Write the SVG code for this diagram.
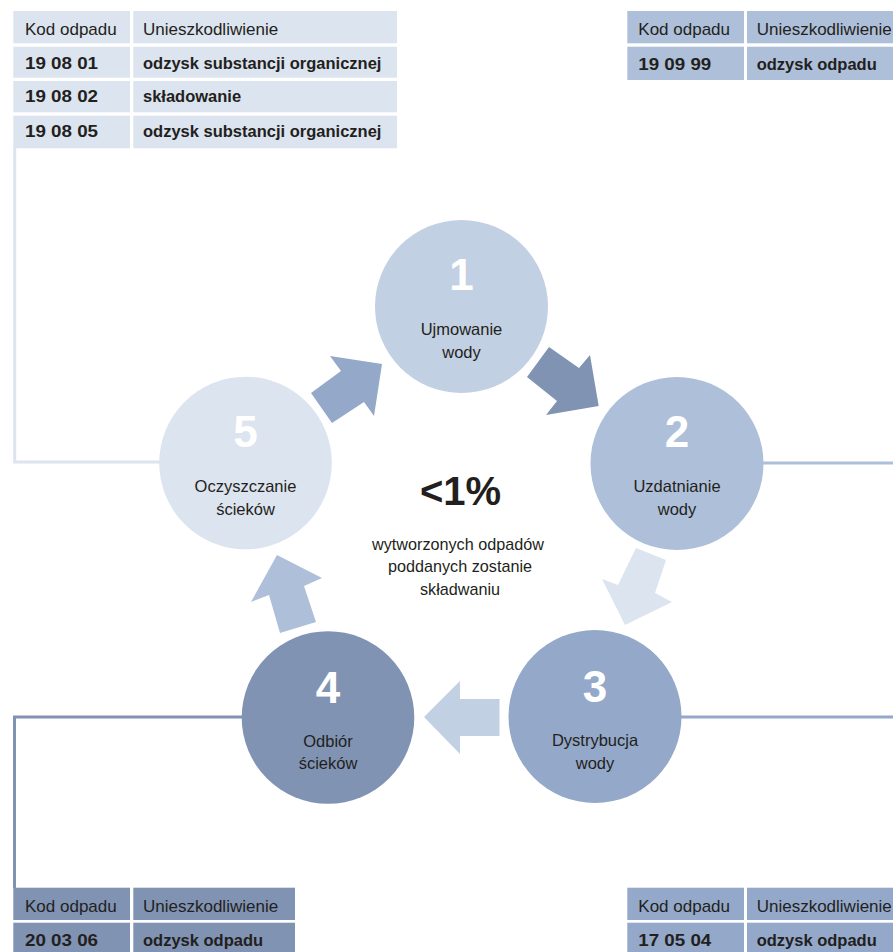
<svg xmlns="http://www.w3.org/2000/svg" width="893" height="952" viewBox="0 0 893 952">
  <style>
    text { font-family: "Liberation Sans", Arial, sans-serif; fill: #231f20; }
    .hd { font-size: 17px; }
    .bd { font-size: 16.5px; font-weight: bold; }
    .num { font-size: 44px; font-weight: bold; fill: #ffffff; text-anchor: middle; }
    .lbl { font-size: 16.5px; text-anchor: middle; }
    .ctr { font-size: 16.2px; text-anchor: middle; }
    .big { font-size: 40px; font-weight: bold; text-anchor: middle; }
    .line { fill: none; stroke-width: 3; }
    .c5 { fill: #dce4ef; }
    .c1 { fill: #c2d0e3; }
    .c2 { fill: #aebfd9; }
    .c3 { fill: #94a8c9; }
    .c4 { fill: #8093b3; }
    .s5 { stroke: #dce4ef; }
    .s2 { stroke: #aebfd9; }
    .s3 { stroke: #94a8c9; }
    .s4 { stroke: #8093b3; }
  </style>

  <g id="connectors">
    <polyline class="line s5" points="14.7,148 14.7,462 165,462"/>
    <line class="line s2" x1="755" y1="463" x2="893" y2="463"/>
    <polyline class="line s4" points="250,717 14.5,717 14.5,888"/>
    <line class="line s3" x1="670" y1="717" x2="893" y2="717"/>
    <polygon id="arrow-1-2" class="c4" points="549,347 579,368 590,355 598.7,406 546,415 557,401 527,377"/>
    <polygon id="arrow-2-3" class="c5" points="636,548 666,560 655,593 672,602 625,625 602,579 618,585"/>
    <polygon id="arrow-3-4" class="c1" points="424,717 460,681 460,699 499.5,699 499.5,736 460,736 460,754"/>
    <polygon id="arrow-4-5" class="c2" points="280,633 269,595 251,602 277,555 322,578 304,586 316,622"/>
    <polygon id="arrow-5-1" class="c3" points="311,393 341,371 330,356 382,364 374,416 364,402 332,423"/>
  </g>

  <g id="table-top-left">
    <rect class="c5" x="13.3" y="11" width="116.7" height="32.3"/>
    <rect class="c5" x="133.3" y="11" width="263.7" height="32.3"/>
    <rect class="c5" x="13.3" y="46.7" width="116.7" height="31"/>
    <rect class="c5" x="133.3" y="46.7" width="263.7" height="31"/>
    <rect class="c5" x="13.3" y="81" width="116.7" height="31.3"/>
    <rect class="c5" x="133.3" y="81" width="263.7" height="31.3"/>
    <rect class="c5" x="13.3" y="115.7" width="116.7" height="32.6"/>
    <rect class="c5" x="133.3" y="115.7" width="263.7" height="32.6"/>
    <text class="hd" x="25" y="35">Kod odpadu</text>
    <text class="hd" x="143" y="35">Unieszkodliwienie</text>
    <text class="bd" x="25" y="69" textLength="73" lengthAdjust="spacingAndGlyphs">19 08 01</text>
    <text class="bd" x="143" y="69">odzysk substancji organicznej</text>
    <text class="bd" x="25" y="102" textLength="73" lengthAdjust="spacingAndGlyphs">19 08 02</text>
    <text class="bd" x="143" y="102">składowanie</text>
    <text class="bd" x="25" y="137" textLength="73" lengthAdjust="spacingAndGlyphs">19 08 05</text>
    <text class="bd" x="143" y="137">odzysk substancji organicznej</text>
  </g>

  <g id="table-top-right">
    <rect class="c2" x="627.3" y="11" width="116.7" height="32.3"/>
    <rect class="c2" x="747" y="11" width="150" height="32.3"/>
    <rect class="c2" x="627.3" y="46.7" width="116.7" height="33.3"/>
    <rect class="c2" x="747" y="46.7" width="150" height="33.3"/>
    <text class="hd" x="638.3" y="35">Kod odpadu</text>
    <text class="hd" x="756.7" y="35">Unieszkodliwienie</text>
    <text class="bd" x="638.3" y="69.5" textLength="73" lengthAdjust="spacingAndGlyphs">19 09 99</text>
    <text class="bd" x="756.7" y="69.5">odzysk odpadu</text>
  </g>

  <g id="table-bottom-left">
    <rect class="c4" x="13.3" y="887.7" width="116.7" height="32.3"/>
    <rect class="c4" x="133.3" y="887.7" width="161.7" height="32.3"/>
    <rect class="c4" x="13.3" y="922.7" width="116.7" height="35"/>
    <rect class="c4" x="133.3" y="922.7" width="161.7" height="35"/>
    <text class="hd" x="25" y="911.5">Kod odpadu</text>
    <text class="hd" x="143" y="911.5">Unieszkodliwienie</text>
    <text class="bd" x="25" y="946" textLength="73" lengthAdjust="spacingAndGlyphs">20 03 06</text>
    <text class="bd" x="143" y="946">odzysk odpadu</text>
  </g>

  <g id="table-bottom-right">
    <rect class="c3" x="627.3" y="887.7" width="116.7" height="32.3"/>
    <rect class="c3" x="747" y="887.7" width="150" height="32.3"/>
    <rect class="c3" x="627.3" y="922.7" width="116.7" height="35"/>
    <rect class="c3" x="747" y="922.7" width="150" height="35"/>
    <text class="hd" x="638.3" y="911.5">Kod odpadu</text>
    <text class="hd" x="756.7" y="911.5">Unieszkodliwienie</text>
    <text class="bd" x="638.3" y="946" textLength="73" lengthAdjust="spacingAndGlyphs">17 05 04</text>
    <text class="bd" x="756.7" y="946">odzysk odpadu</text>
  </g>

  <g id="node-1">
    <circle class="c1" cx="461.5" cy="306.5" r="86.5"/>
    <text class="num" x="461.5" y="290">1</text>
    <text class="lbl" x="461.5" y="335">Ujmowanie</text>
    <text class="lbl" x="461.5" y="357.5">wody</text>
  </g>

  <g id="node-2">
    <circle class="c2" cx="677" cy="463.5" r="86.5"/>
    <text class="num" x="677" y="447">2</text>
    <text class="lbl" x="677" y="492">Uzdatnianie</text>
    <text class="lbl" x="677" y="514.5">wody</text>
  </g>

  <g id="node-3">
    <circle class="c3" cx="595" cy="716.5" r="86.5"/>
    <text class="num" x="595" y="702">3</text>
    <text class="lbl" x="595" y="746">Dystrybucja</text>
    <text class="lbl" x="595" y="768.5">wody</text>
  </g>

  <g id="node-4">
    <circle class="c4" cx="328" cy="717.5" r="86.3"/>
    <text class="num" x="328" y="702.5">4</text>
    <text class="lbl" x="328" y="746.5">Odbiór</text>
    <text class="lbl" x="328" y="768.5">ścieków</text>
  </g>

  <g id="node-5">
    <circle class="c5" cx="245.5" cy="463" r="86.3"/>
    <text class="num" x="245.5" y="447">5</text>
    <text class="lbl" x="245.5" y="491.5">Oczyszczanie</text>
    <text class="lbl" x="245.5" y="514.5">ścieków</text>
  </g>

  <g id="center-note">
    <text class="big" x="460.5" y="505">&lt;1%</text>
    <text class="ctr" x="458" y="549.5">wytworzonych odpadów</text>
    <text class="ctr" x="460" y="572">poddanych zostanie</text>
    <text class="ctr" x="460" y="594.5">składwaniu</text>
  </g>
</svg>
